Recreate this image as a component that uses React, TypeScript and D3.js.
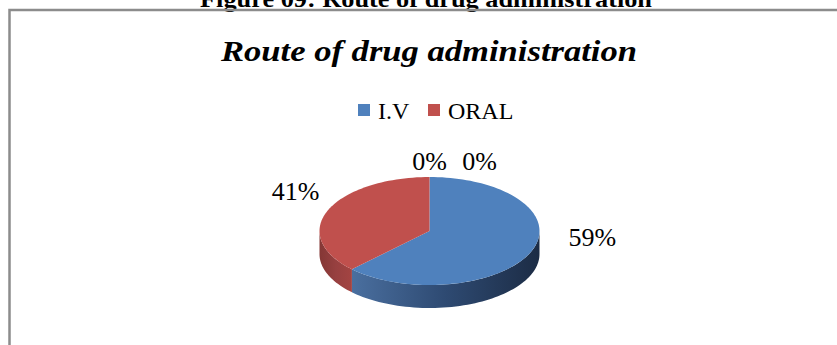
import React from 'react';
import * as d3 from 'd3';

// ---- data ----
const categories = ['I.V', 'ORAL', 'C3', 'C4'];
const values = [59, 41, 0, 0];
const valueLabels = ['59%', '41%', '0%', '0%'];
const legendItems = ['I.V', 'ORAL'];
const caption = 'Figure 09: Route of drug administration';
const chartTitle = 'Route of drug administration';

// ---- layout / style ----
const W = 837;
const H = 345;
const topColors = ['#4F81BD', '#C0504D', '#9BBB59', '#8064A2'];
// side wall gradients, listed left -> right
const sideStops = [
  ['#4a6f9f', '#2e4a72', '#1c2c45'],
  ['#843735', '#974040', '#a34442'],
  ['#6f8a3f', '#5c7434', '#4a5e2a'],
  ['#5c4875', '#4d3c62', '#3e3050'],
];
const CX = 429.5;
const CY = 231;
const RX = 110;
const RY = 54;
const DEPTH = 23;
// Excel-like perspective warp of the angles (front magnified, back compressed)
const WARP = 0.24;
const LABEL_RX = RX * 1.4;
const LABEL_RY = RY * 1.3;
// fine nudges for label placement (Excel's outside-end placement)
const labelNudge: [number, number][] = [
  [15, -14],
  [14, -21],
  [0, 0],
  [50, 0],
];

const serif = '"Liberation Serif", "Times New Roman", serif';

const warp = (a: number) => a + WARP * Math.sin(2 * a);

function ellipsePt(a: number, dy = 0): [number, number] {
  const w = warp(a);
  return [CX + RX * Math.sin(w), CY - RY * Math.cos(w) + dy];
}

function topPath(a0: number, a1: number): string {
  if (a1 - a0 <= 0) return '';
  const n = Math.max(2, Math.ceil(((a1 - a0) / (Math.PI * 2)) * 240));
  const pts = d3.range(n + 1).map((i) => ellipsePt(a0 + ((a1 - a0) * i) / n));
  return 'M' + CX + ',' + CY + 'L' + pts.map((p) => p.join(',')).join('L') + 'Z';
}

function sideRange(a0: number, a1: number): [number, number] {
  return [Math.max(a0, Math.PI / 2), Math.min(a1, (Math.PI * 3) / 2)];
}

function sidePath(a0: number, a1: number): string {
  const [s, e] = sideRange(a0, a1);
  if (e - s <= 0) return '';
  const n = Math.max(2, Math.ceil(((e - s) / (Math.PI * 2)) * 240));
  const upper = d3.range(n + 1).map((i) => ellipsePt(s + ((e - s) * i) / n));
  const lower = d3.range(n + 1).map((i) => ellipsePt(e - ((e - s) * i) / n, DEPTH));
  return 'M' + upper.concat(lower).map((p) => p.join(',')).join('L') + 'Z';
}

export default function App() {
  const arcs = d3
    .pie<number>()
    .sort(null)
    .value((d) => d)(values);

  return (
    <svg
      width={W}
      height={H}
      viewBox={`0 0 ${W} ${H}`}
      style={{ position: 'absolute', left: 0, top: 0, background: '#fff' }}
    >
      <defs>
        {arcs.map((a, i) => {
          const [s, e] = sideRange(a.startAngle, a.endAngle);
          const xa = ellipsePt(s)[0];
          const xb = ellipsePt(Math.max(s, e))[0];
          return (
            <linearGradient
              key={i}
              id={`side${i}`}
              gradientUnits="userSpaceOnUse"
              x1={Math.min(xa, xb)}
              x2={Math.max(xa, xb) + 0.01}
              y1={0}
              y2={0}
            >
              <stop offset="0%" stopColor={sideStops[i][0]} />
              <stop offset="50%" stopColor={sideStops[i][1]} />
              <stop offset="100%" stopColor={sideStops[i][2]} />
            </linearGradient>
          );
        })}
      </defs>

      {/* caption above the chart frame (cut off at top, as in the source) */}
      <text
        x={426}
        y={7}
        textAnchor="middle"
        fontFamily={serif}
        fontWeight="bold"
        fontSize={24}
        textLength={452}
        lengthAdjust="spacingAndGlyphs"
        fill="#000"
      >
        {caption}
      </text>

      {/* chart frame */}
      <rect x={9.5} y={10} width={900} height={400} fill="none" stroke="#8c8c8c" strokeWidth={2.5} />

      {/* title */}
      <text
        x={429}
        y={61}
        textAnchor="middle"
        fontFamily={serif}
        fontWeight="bold"
        fontStyle="italic"
        fontSize={30}
        textLength={416}
        lengthAdjust="spacingAndGlyphs"
        fill="#000"
      >
        {chartTitle}
      </text>

      {/* legend */}
      {legendItems.map((name, i) => {
        const x0 = i === 0 ? 358 : 428;
        return (
          <g key={name}>
            <rect x={x0} y={104} width={12} height={12} fill={topColors[categories.indexOf(name)]} />
            <text x={x0 + 20} y={119} fontFamily={serif} fontSize={24} fill="#000">
              {name}
            </text>
          </g>
        );
      })}

      {/* pie sides */}
      {arcs.map((a, i) => (
        <path key={'s' + i} d={sidePath(a.startAngle, a.endAngle)} fill={`url(#side${i})`} />
      ))}
      {/* pie tops */}
      {arcs.map((a, i) => (
        <path key={'t' + i} d={topPath(a.startAngle, a.endAngle)} fill={topColors[i]} />
      ))}

      {/* data labels */}
      {arcs.map((a, i) => {
        const mid = (a.startAngle + a.endAngle) / 2;
        const x = CX + LABEL_RX * Math.sin(mid) + labelNudge[i][0];
        const y = CY - LABEL_RY * Math.cos(mid) + labelNudge[i][1];
        return (
          <text
            key={'l' + i}
            x={x}
            y={y}
            dy="0.35em"
            textAnchor="middle"
            fontFamily={serif}
            fontSize={26}
            fill="#000"
          >
            {valueLabels[i]}
          </text>
        );
      })}
    </svg>
  );
}
